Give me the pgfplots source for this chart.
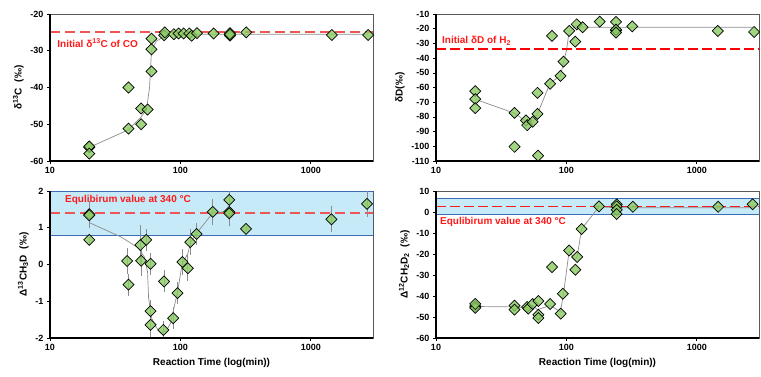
\documentclass[border=0pt]{standalone}
\usepackage{fontspec}
\setmainfont{Liberation Sans}
\usepackage{pgfplots}
\pgfplotsset{compat=1.18}
\usepackage{pgfplotstable}
\definecolor{mk}{HTML}{8BCB63}
\definecolor{bandfill}{HTML}{C6EAF8}
\definecolor{bandedge}{HTML}{3C6DB4}
\definecolor{conn}{HTML}{8C8C8C}
\definecolor{redA}{HTML}{F05555}
\definecolor{redB}{HTML}{FF1A1A}

\pgfplotstableread{
t v
20 -56.3
20 -56.0
20 -58.0
40 -40.0
40 -51.2
50 -45.7
50 -50.0
56 -46.0
60 -35.6
60 -29.6
60 -26.7
75 -25.8
76 -25.0
89 -25.5
97 -25.3
106 -25.3
117 -25.3
122 -25.9
134 -25.2
180 -25.3
240 -25.2
240 -25.9
240 -25.5
320 -25.0
1450 -25.7
2750 -25.7
}\dataA

\pgfplotstableread{
t v
20 -62.5
20 -67.9
20 -74.0
40 -77.2
40 -100.3
49 -82.4
50 -85.6
55 -83.3
60 -63.6
60 -77.9
60.6 -106.4
75 -57.5
77.5 -24.9
90 -52.1
95 -42.4
105 -21.5
117 -28.8
120 -17.0
133 -19.0
180 -15.2
240 -15.4
240 -21.3
240 -20.6
240 -22.7
320 -18.4
1450 -21.5
2750 -22.2
}\dataB

\pgfplotstableread{
t v e
20 1.37 0.35
20 1.34 0.35
20 0.67 0.08
39 0.095 0.35
40 -0.55 0.3
49.4 0.53 0.55
50 0.10 0.4
54.7 0.67 0.3
59 0.02 0.3
59 -1.27 0.3
59 -1.64 0.4
75 -0.46 0.3
74 -1.78 0.25
88 -1.46 0.3
95 -0.78 0.3
103.5 0.07 0.35
114 -0.10 0.35
119 0.61 0.35
133 0.83 0.3
177 1.43 0.35
237 1.76 0.35
237 1.43 0.35
237 1.39 0.35
319 0.97 0.08
1440 1.23 0.35
2700 1.65 0.35
}\dataC

\pgfplotstableread{
t v
20 -44.8
20 -45.7
20 -43.8
40 -44.6
40 -46.5
50 -45.2
51 -46.0
55 -43.8
61 -42.4
61 -48.9
61 -50.5
75 -43.8
77.6 -26.2
90.4 -48.4
94 -38.9
105 -18.3
117 -27.5
121 -21.4
131 -8.1
178 2.7
243 3.65
243 2.7
243 1.0
243 -0.95
324 2.5
1460 2.5
2680 3.65
}\dataD

\pgfplotstableread{
t v
10 -34
3000 -34
}\lineB

\newcommand{\blackframe}{\draw[black, line width=1.2pt] (rel axis cs:0,1) -- (rel axis cs:0,0) -- (rel axis cs:1,0);}
\newcommand{\tkf}{\fontsize{9}{10}\selectfont\bfseries}
\newcommand{\lbl}{\fontsize{10}{11}\selectfont\bfseries}

\begin{document}
\begin{tikzpicture}
\useasboundingbox (0,0) rectangle (761pt,376pt);

% Panel 1
\begin{axis}[scale only axis, width=323pt, height=147pt,
  xmode=log, xmin=10, xmax=3000,
  xtick={10,100,1000}, xticklabels={10,100,1000},
  xminorticks=false, yminorticks=false,
  xtick pos=left, ytick pos=left, tick align=outside, major tick length=3pt,
  tick style={black, line width=0.6pt},
  axis line style={draw=gray!70!black, line width=0.6pt},
  ticklabel style={font=\tkf}, label style={font=\lbl},
  clip mode=individual,
  at={(50pt,215pt)}, anchor=south west,
  ymin=-60, ymax=-20, ytick={-60,-50,-40,-30,-20}, yticklabels={-60,-50,-40,-30,-20},
  ylabel={δ\textsuperscript{13}C\ \ (‰)}]
\addplot[color=redA, line width=1.8pt, dash pattern=on 10pt off 5pt] coordinates {(10,-25) (3000,-25)};
\addplot[draw=conn, line width=0.7pt, no marks] coordinates {(20,-56.3) (40,-51.5) (50,-48) (55,-46) (58,-40) (60,-30) (65,-27.5) (75,-26) (90,-25.6) (135,-25.5) (2750,-25.5)};
\addplot[only marks, mark=square*, mark size=3.9pt, mark options={rotate=45, fill=mk, fill opacity=0.8, draw=black, line width=0.7pt}] table[x=t,y=v]{\dataA};
\node[anchor=west, text=redB, font=\lbl] at (rel axis cs:0.012,0.80) {Initial δ\textsuperscript{13}C of CO};
\blackframe
\end{axis}

% Panel 2
\begin{axis}[scale only axis, width=323pt, height=147pt,
  xmode=log, xmin=10, xmax=3000,
  xtick={10,100,1000}, xticklabels={10,100,1000},
  xminorticks=false, yminorticks=false,
  xtick pos=left, ytick pos=left, tick align=outside, major tick length=3pt,
  tick style={black, line width=0.6pt},
  axis line style={draw=gray!70!black, line width=0.6pt},
  ticklabel style={font=\tkf}, label style={font=\lbl},
  clip mode=individual,
  at={(436pt,215pt)}, anchor=south west,
  ymin=-110, ymax=-10, ytick={-110,-100,-90,-80,-70,-60,-50,-40,-30,-20,-10},
  yticklabels={-110,-100,-90,-80,-70,-60,-50,-40,-30,-20,-10},
  ylabel={δD(‰)}]
\addplot[draw=conn, line width=0.7pt, no marks] coordinates {(20,-68) (40,-77.5) (50,-83.5) (55,-84) (60,-78) (75,-57) (90,-52) (95,-43) (100,-35) (105,-22) (118,-18) (133,-19) (2750,-19)};
\addplot[draw=red, color=red, line width=1.6pt, dash pattern=on 10pt off 4pt, no marks] table[x=t,y=v]{\lineB};
\addplot[only marks, mark=square*, mark size=3.9pt, mark options={rotate=45, fill=mk, fill opacity=0.8, draw=black, line width=0.7pt}] table[x=t,y=v]{\dataB};
\node[anchor=west, text=redB, font=\lbl] at (rel axis cs:0.008,0.816) {Initial δD of H\textsubscript{2}};
\blackframe
\end{axis}

% Panel 3
\begin{axis}[scale only axis, width=323pt, height=147pt,
  xmode=log, xmin=10, xmax=3000,
  xtick={10,100,1000}, xticklabels={10,100,1000},
  xminorticks=false, yminorticks=false,
  xtick pos=left, ytick pos=left, tick align=outside, major tick length=3pt,
  tick style={black, line width=0.6pt},
  axis line style={draw=gray!70!black, line width=0.6pt},
  ticklabel style={font=\tkf}, label style={font=\lbl},
  clip mode=individual,
  at={(50pt,38pt)}, anchor=south west,
  ymin=-2, ymax=2, ytick={-2,-1,0,1,2}, yticklabels={-2,-1,0,1,2},
  ylabel={Δ\textsuperscript{13}CH\textsubscript{3}D\ \ (‰)},
  xlabel={Reaction Time (log(min))}]
\addplot[fill=bandfill, draw=bandedge, line width=0.8pt] coordinates {(10,0.8) (3000,0.8) (3000,2) (10,2)} -- cycle;
\addplot[color=redA, line width=1.5pt, dash pattern=on 10pt off 5pt] coordinates {(10,1.4) (3000,1.4)};
\addplot[draw=conn, line width=0.7pt, no marks] coordinates {(20,1.14) (35,0.75) (47.7,0.45) (53,0.2) (56,-0.2) (57,-0.9) (60,-1.45) (65,-1.7) (70.5,-1.86) (78,-1.8) (84,-1.6) (95,-0.75) (103,0) (114,0.3) (120,0.6) (133,0.85) (177,1.4) (237,1.45)};
\addplot[only marks, mark=square*, mark size=3.9pt, mark options={rotate=45, fill=mk, fill opacity=0.8, draw=black, line width=0.7pt},
  error bars/.cd, y dir=both, y explicit, error bar style={draw=conn, line width=0.8pt}, error mark=none] table[x=t,y=v,y error=e]{\dataC};
\node[anchor=west, text=redB, font=\lbl] at (rel axis cs:0.036,0.939) {Equlibirum value at 340 °C};
\blackframe
\end{axis}

% Panel 4
\begin{axis}[scale only axis, width=323pt, height=147pt,
  xmode=log, xmin=10, xmax=3000,
  xtick={10,100,1000}, xticklabels={10,100,1000},
  xminorticks=false, yminorticks=false,
  xtick pos=left, ytick pos=left, tick align=outside, major tick length=3pt,
  tick style={black, line width=0.6pt},
  axis line style={draw=gray!70!black, line width=0.6pt},
  ticklabel style={font=\tkf}, label style={font=\lbl},
  clip mode=individual,
  at={(436pt,38pt)}, anchor=south west,
  ymin=-60, ymax=10, ytick={-60,-50,-40,-30,-20,-10,0,10}, yticklabels={-60,-50,-40,-30,-20,-10,0,10},
  ylabel={Δ\textsuperscript{12}CH\textsubscript{2}D\textsubscript{2}\ \ (‰)},
  xlabel={Reaction Time (log(min))}]
\addplot[fill=bandfill, draw=bandedge, line width=0.8pt] coordinates {(10,-1.1) (3000,-1.1) (3000,6.35) (10,6.35)} -- cycle;
\addplot[draw=redB, line width=1.4pt, dash pattern=on 10pt off 4pt] coordinates {(10,2.7) (3000,2.7)};
\addplot[draw=conn, line width=0.7pt, no marks] coordinates {(20,-45) (40,-45.2) (50,-45.5) (55,-44.5) (60,-46.5) (75,-44.5) (90,-47.5) (95,-39) (105,-18.5) (117,-23) (121,-21) (131,-8) (178,2.5) (243,2) (2680,2)};
\addplot[only marks, mark=square*, mark size=3.9pt, mark options={rotate=45, fill=mk, fill opacity=0.8, draw=black, line width=0.7pt}] table[x=t,y=v]{\dataD};
\node[anchor=west, text=redB, font=\lbl] at (rel axis cs:0.002,0.789) {Equlibirum value at 340 °C};
\blackframe
\end{axis}
\end{tikzpicture}
\end{document}
